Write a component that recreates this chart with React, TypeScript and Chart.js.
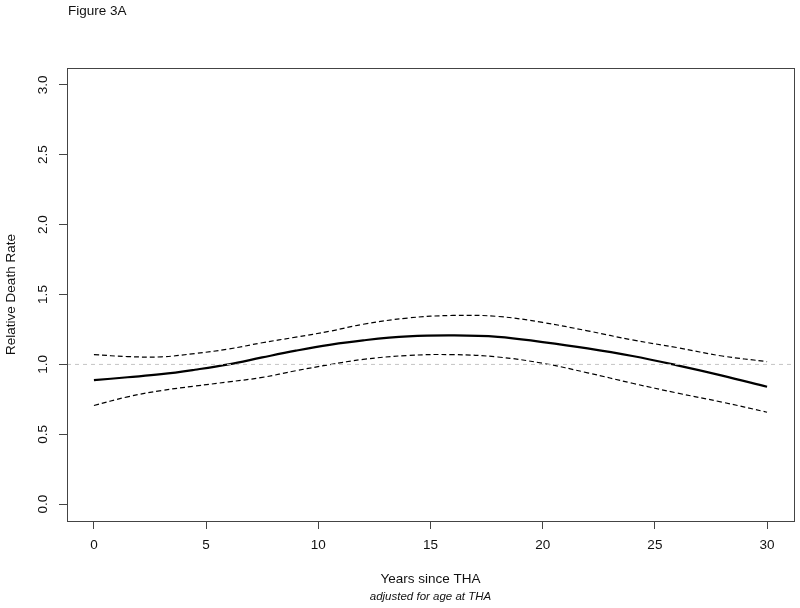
import React, { useEffect, useRef } from "react";
import { Chart, registerables } from "chart.js";

Chart.register(...registerables);

const years = [0, 1.5, 3, 4.5, 6, 7.5, 9, 10.5, 12, 14, 16, 18, 20, 22, 24, 26, 28, 30];
const rate = [0.887, 0.908, 0.93, 0.962, 1.0, 1.05, 1.098, 1.14, 1.172, 1.2, 1.207, 1.197, 1.16, 1.115, 1.06, 0.993, 0.92, 0.84];
const upper = [1.07, 1.056, 1.054, 1.078, 1.11, 1.155, 1.195, 1.237, 1.287, 1.332, 1.35, 1.343, 1.3, 1.24, 1.175, 1.12, 1.06, 1.02];
const lower = [0.706, 0.768, 0.813, 0.845, 0.875, 0.907, 0.955, 0.998, 1.036, 1.064, 1.07, 1.053, 1.008, 0.94, 0.865, 0.795, 0.73, 0.658];
const xTicks = [0, 5, 10, 15, 20, 25, 30];
const yTicks = [0, 0.5, 1, 1.5, 2, 2.5, 3];
const refValue = 1;
const xRange = [-1.2, 31.2];
const yRange = [-0.12, 3.12];

const titleText = "Figure 3A";
const xTitle = "Years since THA";
const xSubtitle = "adjusted for age at THA";
const yTitle = "Relative Death Rate";

const FONT = "'Liberation Sans', Arial, Helvetica, sans-serif";

const decorPlugin = {
  id: "decor",
  afterDraw(chart: any) {
    const { ctx, chartArea } = chart;
    const { left, right, top, bottom } = chartArea;
    ctx.save();
    ctx.strokeStyle = "#444";
    ctx.lineWidth = 1;
    ctx.strokeRect(Math.round(left) + 0.5, Math.round(top) + 0.5, Math.round(right - left), Math.round(bottom - top));
    ctx.fillStyle = "#111";
    ctx.font = `13.5px ${FONT}`;
    ctx.textBaseline = "middle";
    ctx.textAlign = "left";
    ctx.fillText(titleText, 68, 11);
    const cx = (left + right) / 2;
    ctx.textAlign = "center";
    ctx.fillText(xTitle, cx, 579);
    ctx.font = `italic 11.5px ${FONT}`;
    ctx.fillText(xSubtitle, cx, 597);
    ctx.font = `13.5px ${FONT}`;
    ctx.translate(11, (top + bottom) / 2);
    ctx.rotate(-Math.PI / 2);
    ctx.fillText(yTitle, 0, 0);
    ctx.restore();
  },
};

export default function App() {
  const ref = useRef<HTMLCanvasElement | null>(null);
  useEffect(() => {
    if (!ref.current) return;
    const pts = (arr: number[]) => years.map((x, i) => ({ x, y: arr[i] }));
    const chart = new Chart(ref.current, {
      type: "line",
      data: {
        datasets: [
          {
            label: "ref",
            data: xRange.map((x) => ({ x, y: refValue })),
            borderColor: "#c4c4c4",
            borderWidth: 1,
            borderDash: [4, 4],
            pointRadius: 0,
            tension: 0,
            fill: false,
          },
          {
            label: "upper",
            data: pts(upper),
            borderColor: "#000",
            borderWidth: 1.2,
            borderDash: [5, 3],
            pointRadius: 0,
            tension: 0.4,
            fill: false,
          },
          {
            label: "lower",
            data: pts(lower),
            borderColor: "#000",
            borderWidth: 1.2,
            borderDash: [5, 3],
            pointRadius: 0,
            tension: 0.4,
            fill: false,
          },
          {
            label: "rate",
            data: pts(rate),
            borderColor: "#000",
            borderWidth: 2.2,
            pointRadius: 0,
            tension: 0.4,
            fill: false,
          },
        ],
      },
      options: {
        animation: false,
        responsive: false,
        maintainAspectRatio: false,
        layout: { padding: { left: 0, right: 6, top: 68, bottom: 0 } },
        plugins: { legend: { display: false }, tooltip: { enabled: false }, title: { display: false } },
        scales: {
          x: {
            type: "linear",
            min: xRange[0],
            max: xRange[1],
            afterBuildTicks: (s: any) => {
              s.ticks = xTicks.map((v) => ({ value: v }));
            },
            afterFit: (s: any) => {
              s.height = 87;
            },
            border: { display: false },
            grid: { drawOnChartArea: false, drawTicks: true, tickLength: 8, color: "#444", lineWidth: 1 },
            ticks: {
              color: "#111",
              font: { family: FONT, size: 13.5 },
              padding: 8,
              maxRotation: 0,
              minRotation: 0,
              callback: (v: any) => String(v),
            },
          },
          y: {
            type: "linear",
            min: yRange[0],
            max: yRange[1],
            afterBuildTicks: (s: any) => {
              s.ticks = yTicks.map((v) => ({ value: v }));
            },
            afterFit: (s: any) => {
              s.width = 67;
            },
            border: { display: false },
            grid: { drawOnChartArea: false, drawTicks: true, tickLength: 8, color: "#444", lineWidth: 1 },
            ticks: {
              color: "#111",
              font: { family: FONT, size: 13.5 },
              padding: 6,
              minRotation: 90,
              maxRotation: 90,
              crossAlign: "center",
              callback: (v: any) => Number(v).toFixed(1),
            },
          },
        },
      },
      plugins: [decorPlugin],
    });
    return () => chart.destroy();
  }, []);
  return (
    <div style={{ position: "fixed", left: 0, top: 0, width: 800, height: 608, background: "#fff" }}>
      <canvas ref={ref} width={800} height={608} style={{ display: "block" }} />
    </div>
  );
}
